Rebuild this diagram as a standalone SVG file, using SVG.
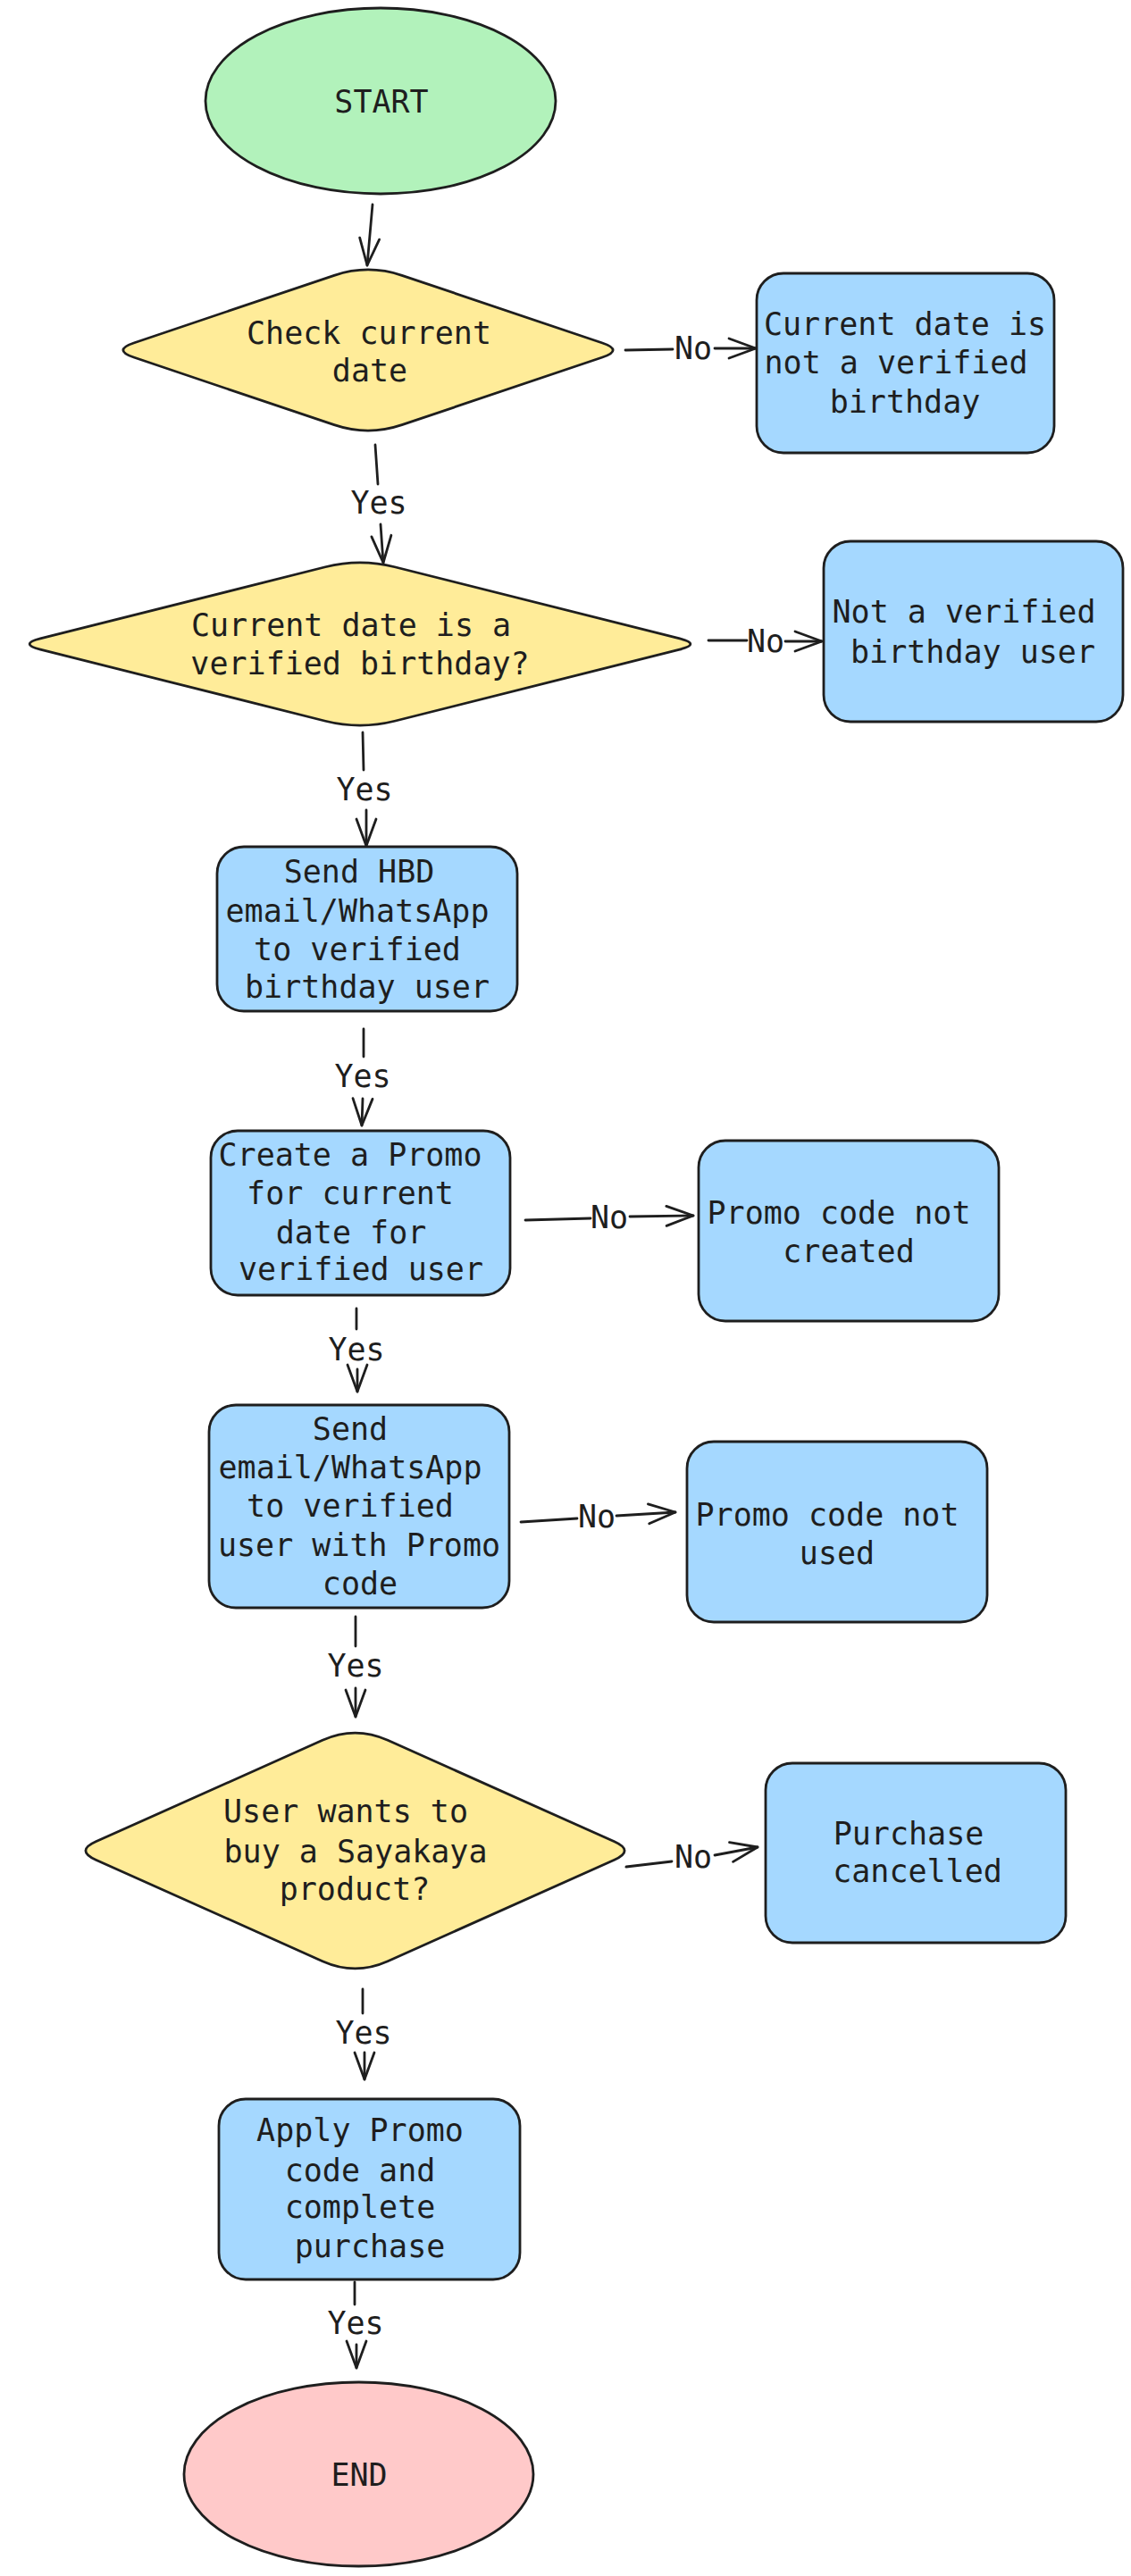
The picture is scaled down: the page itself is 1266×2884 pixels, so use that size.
<svg xmlns="http://www.w3.org/2000/svg" width="1266" height="2884" viewBox="0 0 1266 2884">
<style>
.bg{fill:#ffffff}
.shape{stroke:#1e1e1e;stroke-width:2.8;stroke-linejoin:round}
.green{fill:#b2f2bb}
.yellow{fill:#ffec99}
.blue{fill:#a5d8ff}
.pink{fill:#ffc9c9}
.t{font-family:"DejaVu Sans Mono","Liberation Mono",monospace;font-size:35px;fill:#1e1e1e;text-anchor:middle}
.c{fill:none;stroke:#1e1e1e;stroke-width:2.8;stroke-linecap:round}
</style>
<defs>
<marker id="ah" markerUnits="userSpaceOnUse" viewBox="-32 -14 34 28" refX="0" refY="0" markerWidth="34" markerHeight="28" orient="auto" overflow="visible">
<path d="M-30,-11 L0,0 L-30,11" fill="none" stroke="#1e1e1e" stroke-width="2.8" stroke-linecap="round" stroke-linejoin="round"/>
</marker>
</defs>
<rect class="bg" x="0" y="0" width="1266" height="2884"/>

<g id="connectors">
<path class="c" d="M417,229 L411,297" marker-end="url(#ah)"/>
<path class="c" d="M700,392 L753,391"/>
<path class="c" d="M800,390 L846,390" marker-end="url(#ah)"/>
<text class="t" x="776" y="402">No</text>
<path class="c" d="M420,498 L423,542"/>
<path class="c" d="M426,587 L429,630" marker-end="url(#ah)"/>
<text class="t" x="424" y="575">Yes</text>
<path class="c" d="M793,717 L836,717"/>
<path class="c" d="M879,718 L920,718" marker-end="url(#ah)"/>
<text class="t" x="857" y="730">No</text>
<path class="c" d="M406,820 L407,862"/>
<path class="c" d="M410,907 L410,947" marker-end="url(#ah)"/>
<text class="t" x="408" y="896">Yes</text>
<path class="c" d="M407,1152 L407,1183"/>
<path class="c" d="M406,1230 L405,1260" marker-end="url(#ah)"/>
<text class="t" x="406" y="1217">Yes</text>
<path class="c" d="M588,1366 L661,1364"/>
<path class="c" d="M705,1362 L776,1361" marker-end="url(#ah)"/>
<text class="t" x="682" y="1375">No</text>
<path class="c" d="M399,1465 L399,1488"/>
<path class="c" d="M400,1533 L400,1558" marker-end="url(#ah)"/>
<text class="t" x="399" y="1523">Yes</text>
<path class="c" d="M583,1704 L646,1700"/>
<path class="c" d="M690,1697 L756,1693" marker-end="url(#ah)"/>
<text class="t" x="668" y="1710">No</text>
<path class="c" d="M398,1810 L398,1843"/>
<path class="c" d="M398,1890 L398,1922" marker-end="url(#ah)"/>
<text class="t" x="398" y="1877">Yes</text>
<path class="c" d="M701,2090 L752,2084"/>
<path class="c" d="M800,2077 L848,2068" marker-end="url(#ah)"/>
<text class="t" x="776" y="2091">No</text>
<path class="c" d="M406,2227 L406,2254"/>
<path class="c" d="M408,2298 L408,2328" marker-end="url(#ah)"/>
<text class="t" x="407" y="2288">Yes</text>
<path class="c" d="M397,2555 L397,2580"/>
<path class="c" d="M399,2625 L399,2651" marker-end="url(#ah)"/>
<text class="t" x="398" y="2613">Yes</text>
</g>

<g id="start">
<ellipse class="shape green" cx="426" cy="113" rx="196" ry="104"/>
<text class="t" x="427" y="126">START</text>
</g>

<g id="check-date">
<path class="shape yellow" d="M449.9,308.3 L674.3,384 Q698,392 674.3,400 L449.9,475.7 Q412,488.5 374.1,475.7 L149.7,400 Q126,392 149.7,384 L374.1,308.3 Q412,295.5 449.9,308.3 Z"/>
<text class="t" x="413" y="385">Check current</text>
<text class="t" x="414" y="427">date</text>
</g>

<g id="not-birthday">
<rect class="shape blue" x="847" y="306" width="333" height="201" rx="30" ry="30"/>
<text class="t" x="1013" y="375">Current date is</text>
<text class="t" x="1003" y="418">not a verified</text>
<text class="t" x="1013" y="462">birthday</text>
</g>

<g id="is-verified">
<path class="shape yellow" d="M441.8,634.75 L760.8,714.9 Q785,721 760.8,727.1 L441.8,807.25 Q403,817 364.2,807.25 L45.2,727.1 Q21,721 45.2,714.9 L364.2,634.75 Q403,625 441.8,634.75 Z"/>
<text class="t" x="393" y="712">Current date is a</text>
<text class="t" x="403" y="755">verified birthday?</text>
</g>

<g id="not-verified-user">
<rect class="shape blue" x="922" y="606" width="335" height="202" rx="30" ry="30"/>
<text class="t" x="1079" y="697">Not a verified</text>
<text class="t" x="1089" y="742">birthday user</text>
</g>

<g id="send-hbd">
<rect class="shape blue" x="243" y="948" width="336" height="184" rx="30" ry="30"/>
<text class="t" x="402" y="988">Send HBD</text>
<text class="t" x="400" y="1032">email/WhatsApp</text>
<text class="t" x="400" y="1075">to verified</text>
<text class="t" x="411" y="1117">birthday user</text>
</g>

<g id="create-promo">
<rect class="shape blue" x="236" y="1266" width="335" height="184" rx="30" ry="30"/>
<text class="t" x="392" y="1305">Create a Promo</text>
<text class="t" x="392" y="1348">for current</text>
<text class="t" x="393" y="1392">date for</text>
<text class="t" x="404" y="1433">verified user</text>
</g>

<g id="promo-not-created">
<rect class="shape blue" x="782" y="1277" width="336" height="202" rx="30" ry="30"/>
<text class="t" x="939" y="1370">Promo code not</text>
<text class="t" x="950" y="1413">created</text>
</g>

<g id="send-promo">
<rect class="shape blue" x="234" y="1573" width="336" height="227" rx="30" ry="30"/>
<text class="t" x="392" y="1612">Send</text>
<text class="t" x="392" y="1655">email/WhatsApp</text>
<text class="t" x="392" y="1698">to verified</text>
<text class="t" x="402" y="1742">user with Promo</text>
<text class="t" x="403" y="1785">code</text>
</g>

<g id="promo-not-used">
<rect class="shape blue" x="769" y="1614" width="336" height="202" rx="30" ry="30"/>
<text class="t" x="926" y="1708">Promo code not</text>
<text class="t" x="937" y="1751">used</text>
</g>

<g id="wants-to-buy">
<path class="shape yellow" d="M434,1948.3 L687.7,2061.8 Q710.5,2072 687.7,2082.2 L434,2195.7 Q397.5,2212 361,2195.7 L107.3,2082.2 Q84.5,2072 107.3,2061.8 L361,1948.3 Q397.5,1932 434,1948.3 Z"/>
<text class="t" x="387" y="2040">User wants to</text>
<text class="t" x="398" y="2085">buy a Sayakaya</text>
<text class="t" x="397" y="2127">product?</text>
</g>

<g id="purchase-cancelled">
<rect class="shape blue" x="857" y="1974" width="336" height="201" rx="30" ry="30"/>
<text class="t" x="1017" y="2065">Purchase</text>
<text class="t" x="1027" y="2107">cancelled</text>
</g>

<g id="apply-promo">
<rect class="shape blue" x="245" y="2350" width="337" height="202" rx="30" ry="30"/>
<text class="t" x="403" y="2397">Apply Promo</text>
<text class="t" x="403" y="2442">code and</text>
<text class="t" x="403" y="2483">complete</text>
<text class="t" x="414" y="2527">purchase</text>
</g>

<g id="end">
<ellipse class="shape pink" cx="401.5" cy="2770" rx="195.5" ry="103"/>
<text class="t" x="402" y="2783">END</text>
</g>
</svg>
